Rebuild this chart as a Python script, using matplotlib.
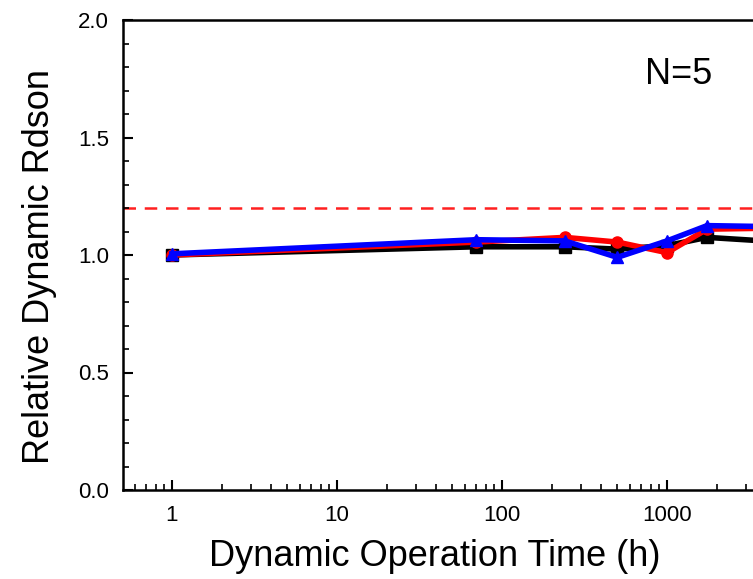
import matplotlib
matplotlib.use("Agg")
import matplotlib.pyplot as plt
from matplotlib.ticker import FixedLocator, MultipleLocator, NullFormatter, FixedFormatter

plt.rcParams['font.family'] = ['Liberation Sans', 'DejaVu Sans']

times = [1, 70, 240, 500, 1000, 1750, 5000]
black_vals = [1.00, 1.035, 1.035, 1.025, 1.04, 1.075, 1.055]
red_vals = [1.00, 1.055, 1.075, 1.055, 1.01, 1.11, 1.115]
blue_vals = [1.005, 1.065, 1.06, 0.99, 1.06, 1.125, 1.12]
limit_value = 1.2
x_ticks = [1, 10, 100, 1000]
x_tick_labels = ["1", "10", "100", "1000"]
y_ticks = [0.0, 0.5, 1.0, 1.5, 2.0]
annotation = "N=5"

fig = plt.figure(figsize=(7.53, 5.79), dpi=100)
ax = fig.add_axes([123/753, 89/579, 709/753, 470/579])

ax.axhline(limit_value, color='#ff2020', lw=1.8, ls=(0, (5, 3.5)), zorder=1)
ax.plot(times, black_vals, color='black', lw=4, marker='s', ms=8, zorder=3)
ax.plot(times, red_vals, color='#ff0000', lw=4, marker='o', ms=8, zorder=4)
ax.plot(times, blue_vals, color='#0000ff', lw=4, marker='^', ms=9, zorder=5)

ax.set_xscale('log')
ax.set_xlim(0.505, 10000)
ax.set_ylim(0, 2.0)
ax.xaxis.set_major_locator(FixedLocator(x_ticks))
ax.xaxis.set_major_formatter(FixedFormatter(x_tick_labels))
ax.xaxis.set_minor_locator(matplotlib.ticker.LogLocator(base=10, subs=range(2, 10)))
ax.xaxis.set_minor_formatter(NullFormatter())
ax.yaxis.set_major_locator(FixedLocator(y_ticks))
ax.yaxis.set_major_formatter(matplotlib.ticker.FormatStrFormatter('%.1f'))
ax.yaxis.set_minor_locator(MultipleLocator(0.1))

ax.tick_params(which='major', direction='in', length=7, width=1.5, labelsize=16, pad=10)
ax.tick_params(which='minor', direction='in', length=4, width=1.2)
ax.tick_params(axis='x', which='major', pad=11)
for s in ax.spines.values():
    s.set_linewidth(1.8)

ax.set_xlabel("Dynamic Operation Time (h)", fontsize=26)
ax.xaxis.set_label_coords((435 - 123) / 709, -(556 - 490) / 470)
ax.set_ylabel("Relative Dynamic Rdson", fontsize=26)
ax.yaxis.set_label_coords(-(123 - 40) / 709, (490 - 266) / 470)
ax.xaxis.label.set_va('center')
ax.yaxis.label.set_va('center')
ax.text(1170, 1.77, annotation, fontsize=26, ha='center', va='center')

fig.savefig("out.png", dpi=100)
